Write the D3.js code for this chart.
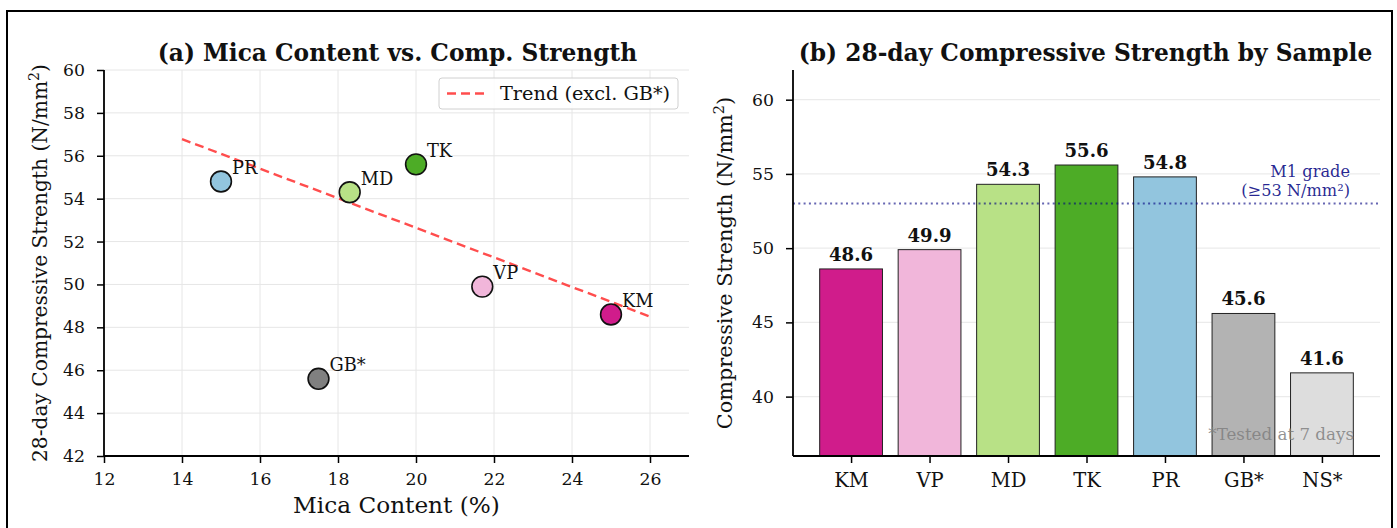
<!DOCTYPE html>
<html>
<head>
<meta charset="utf-8">
<script src="https://cdn.jsdelivr.net/npm/d3@7"></script>
<style>
  html, body { margin: 0; padding: 0; background: #fff; }
  svg text { font-family: "DejaVu Serif", serif; }
</style>
</head>
<body>
<svg id="chart" width="1397" height="528"></svg>
<script>
// Scatter panel (a): mica content vs 28-day strength
const scatterSamples = ["KM", "VP", "MD", "TK", "PR", "GB*"];
const micaContent    = [25, 21.7, 18.3, 20, 15, 17.5];
const strength28     = [48.6, 49.9, 54.3, 55.6, 54.8, 45.6];
const scatterColors  = ["#d01c8b", "#f1b6da", "#b8e186", "#4dac26", "#92c5de", "#808080"];

// Bar panel (b): strength by sample
const barSamples = ["KM", "VP", "MD", "TK", "PR", "GB*", "NS*"];
const barValues  = [48.6, 49.9, 54.3, 55.6, 54.8, 45.6, 41.6];
const barColors  = ["#d01c8b", "#f1b6da", "#b8e186", "#4dac26", "#92c5de", "#b3b3b3", "#dddddd"];

const xTicksA = [12, 14, 16, 18, 20, 22, 24, 26];
const yTicksA = [42, 44, 46, 48, 50, 52, 54, 56, 58, 60];
const yTicksB = [40, 45, 50, 55, 60];
const gradeLevel = 53;

const FS = { title: 23.3, label: 23.2, ylabel: 20.2, ylabelB: 20.8, tick: 17.3, cat: 19.5, point: 17.8,
             legend: 19.3, value: 18.1, note: 16.2 };

const svg = d3.select("#chart");

// outer frame
svg.append("rect").attr("x", 7).attr("y", 11).attr("width", 1385).attr("height", 540)
  .attr("fill", "none").attr("stroke", "#000").attr("stroke-width", 2);

// ---------- Panel (a) ----------
const A = { left: 104, right: 689, top: 70, bottom: 456 };
const xA = d3.scaleLinear().domain([12, 27]).range([A.left, A.right]);
const yA = d3.scaleLinear().domain([42, 60]).range([A.bottom, A.top]);
const gA = svg.append("g");

// grid
gA.append("g").selectAll("line").data(xTicksA).join("line")
  .attr("x1", d => xA(d)).attr("x2", d => xA(d)).attr("y1", A.top).attr("y2", A.bottom)
  .attr("stroke", "#e6e6e6").attr("stroke-width", 1);
gA.append("g").selectAll("line").data(yTicksA).join("line")
  .attr("x1", A.left).attr("x2", A.right).attr("y1", d => yA(d)).attr("y2", d => yA(d))
  .attr("stroke", "#e6e6e6").attr("stroke-width", 1);

// axes
const axA_x = gA.append("g").attr("transform", `translate(0,${A.bottom})`)
  .call(d3.axisBottom(xA).tickValues(xTicksA).tickSize(7).tickPadding(10));
const axA_y = gA.append("g").attr("transform", `translate(${A.left},0)`)
  .call(d3.axisLeft(yA).tickValues(yTicksA).tickSize(7).tickPadding(12));

// trend line (least squares, excluding GB*)
const fitIdx = scatterSamples.map((s, i) => i).filter(i => scatterSamples[i] !== "GB*");
const mx = d3.mean(fitIdx, i => micaContent[i]);
const my = d3.mean(fitIdx, i => strength28[i]);
const slope = d3.sum(fitIdx, i => (micaContent[i] - mx) * (strength28[i] - my)) /
              d3.sum(fitIdx, i => (micaContent[i] - mx) ** 2);
const trendX = [14, 26];
gA.append("line")
  .attr("x1", xA(trendX[0])).attr("y1", yA(my + slope * (trendX[0] - mx)))
  .attr("x2", xA(trendX[1])).attr("y2", yA(my + slope * (trendX[1] - mx)))
  .attr("stroke", "#ff4d4d").attr("stroke-width", 2.4).attr("stroke-dasharray", "9,5");

// points
gA.append("g").selectAll("circle").data(micaContent).join("circle")
  .attr("cx", d => xA(d)).attr("cy", (d, i) => yA(strength28[i])).attr("r", 10.4)
  .attr("fill", (d, i) => scatterColors[i]).attr("stroke", "#111").attr("stroke-width", 1.6);
gA.append("g").selectAll("text").data(micaContent).join("text")
  .attr("x", d => xA(d) + 11).attr("y", (d, i) => yA(strength28[i]) - 7.5)
  .attr("font-size", FS.point).attr("fill", "#111")
  .text((d, i) => scatterSamples[i]);

// legend
const lg = gA.append("g");
lg.append("rect").attr("x", 439).attr("y", 78).attr("width", 239).attr("height", 31).attr("rx", 3)
  .attr("fill", "#fff").attr("fill-opacity", 0.85).attr("stroke", "#d0d0d0");
lg.append("line").attr("x1", 447).attr("x2", 484).attr("y1", 93.5).attr("y2", 93.5)
  .attr("stroke", "#ff4d4d").attr("stroke-width", 2.4).attr("stroke-dasharray", "9,5");
lg.append("text").attr("x", 500).attr("y", 100).attr("font-size", FS.legend).attr("fill", "#111")
  .text("Trend (excl. GB*)");

// titles and axis labels
gA.append("text").attr("x", (A.left + A.right) / 2 + 1).attr("y", 61).attr("text-anchor", "middle")
  .attr("font-size", FS.title).attr("font-weight", "bold").attr("fill", "#111")
  .text("(a) Mica Content vs. Comp. Strength");
gA.append("text").attr("x", (A.left + A.right) / 2).attr("y", 513).attr("text-anchor", "middle")
  .attr("font-size", FS.label).attr("fill", "#111").text("Mica Content (%)");
const ylA = gA.append("text").attr("transform", `translate(47,${(A.top + A.bottom) / 2}) rotate(-90)`)
  .attr("text-anchor", "middle").attr("font-size", FS.ylabel).attr("fill", "#111");
ylA.append("tspan").text("28-day Compressive Strength (N/mm");
ylA.append("tspan").attr("font-size", FS.ylabel * 0.7).attr("dy", -8).text("2");
ylA.append("tspan").attr("dy", 8).text(")");

// ---------- Panel (b) ----------
const B = { left: 793, right: 1380, top: 70, bottom: 456 };
const idx = barSamples.map((d, i) => i);
const xB = d3.scaleLinear().domain([-0.74, barSamples.length - 1 + 0.74]).range([B.left, B.right]);
const yB = d3.scaleLinear().domain([36, 62]).range([B.bottom, B.top]);
const gB = svg.append("g");
const bw = xB(0.8) - xB(0);

gB.append("g").selectAll("line").data(yTicksB).join("line")
  .attr("x1", B.left).attr("x2", B.right).attr("y1", d => yB(d)).attr("y2", d => yB(d))
  .attr("stroke", "#ebebeb").attr("stroke-width", 1.2);

gB.append("g").selectAll("rect").data(barValues).join("rect")
  .attr("x", (d, i) => xB(i) - bw / 2).attr("width", bw)
  .attr("y", d => yB(d)).attr("height", d => B.bottom - yB(d))
  .attr("fill", (d, i) => barColors[i]).attr("stroke", "#222").attr("stroke-width", 1);

gB.append("g").selectAll("text").data(barValues).join("text")
  .attr("x", (d, i) => xB(i)).attr("y", d => yB(d) - 8).attr("text-anchor", "middle")
  .attr("font-size", FS.value).attr("font-weight", "bold").attr("fill", "#111")
  .text(d => d.toFixed(1));

// grade threshold
gB.append("line").attr("x1", B.left).attr("x2", B.right)
  .attr("y1", yB(gradeLevel)).attr("y2", yB(gradeLevel))
  .attr("stroke", "#000080").attr("stroke-opacity", 0.6).attr("stroke-width", 2)
  .attr("stroke-dasharray", "2,3.3");
gB.append("text").attr("x", 1350).attr("y", 176.5).attr("text-anchor", "end")
  .attr("font-size", FS.note).attr("fill", "#000080").attr("fill-opacity", 0.85).text("M1 grade");
gB.append("text").attr("x", 1350).attr("y", 196).attr("text-anchor", "end")
  .attr("font-size", FS.note).attr("fill", "#000080").attr("fill-opacity", 0.85).text("(≥53 N/mm²)");

gB.append("text").attr("x", 1354).attr("y", 440).attr("text-anchor", "end")
  .attr("font-size", 16.7).attr("fill", "#808080").attr("fill-opacity", 0.85).text("*Tested at 7 days");

const axB_x = gB.append("g").attr("transform", `translate(0,${B.bottom})`)
  .call(d3.axisBottom(xB).tickValues(idx).tickFormat(i => barSamples[i]).tickSize(7).tickPadding(10));
const axB_y = gB.append("g").attr("transform", `translate(${B.left},0)`)
  .call(d3.axisLeft(yB).tickValues(yTicksB).tickSize(7).tickPadding(12));

gB.append("text").attr("x", (B.left + B.right) / 2 - 1).attr("y", 61).attr("text-anchor", "middle")
  .attr("font-size", FS.title).attr("font-weight", "bold").attr("fill", "#111")
  .text("(b) 28-day Compressive Strength by Sample");
const ylB = gB.append("text").attr("transform", `translate(732,${(B.top + B.bottom) / 2}) rotate(-90)`)
  .attr("text-anchor", "middle").attr("font-size", FS.ylabelB).attr("fill", "#111");
ylB.append("tspan").text("Compressive Strength (N/mm");
ylB.append("tspan").attr("font-size", FS.ylabelB * 0.7).attr("dy", -8).text("2");
ylB.append("tspan").attr("dy", 8).text(")");

// axis styling
[axA_x, axA_y, axB_x, axB_y].forEach(ax => {
  ax.select(".domain").attr("stroke", "#000").attr("stroke-width", 1.8);
  ax.selectAll(".tick line").attr("stroke", "#000").attr("stroke-width", 1.5);
  ax.selectAll(".tick text").attr("font-family", "DejaVu Serif, serif")
    .attr("font-size", FS.tick).attr("fill", "#111");
});
axB_x.selectAll(".tick text").attr("font-size", FS.cat);
// plain spines without end stubs
axA_x.select(".domain").attr("d", `M${A.left},0H${A.right}`);
axB_x.select(".domain").attr("d", `M${B.left},0H${B.right}`);
[axA_y, axB_y].forEach(ax => ax.select(".domain").attr("d", `M0,${A.bottom}V${A.top}`));
</script>
</body>
</html>
